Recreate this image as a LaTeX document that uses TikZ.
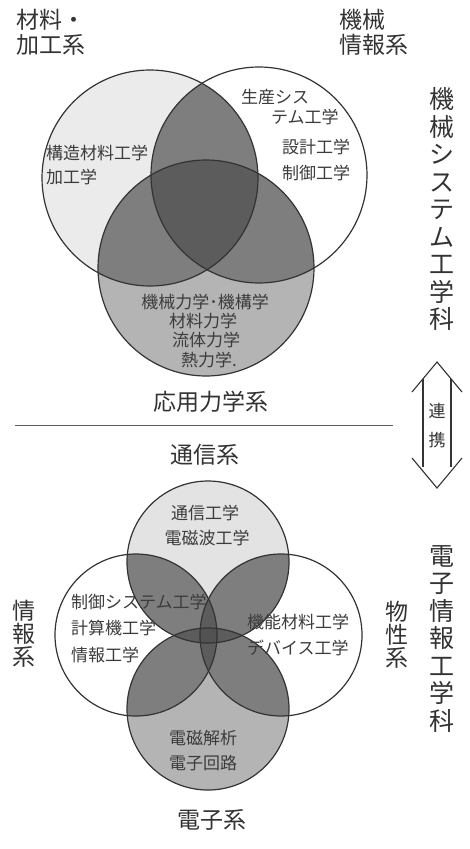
\documentclass[tikz,border=0pt]{standalone}
\usepackage{fontspec}
\setmainfont{Noto Sans CJK JP}
\definecolor{ink}{HTML}{333333}
\definecolor{txt}{HTML}{3C3C3C}
\definecolor{lightA}{HTML}{EBEBEB}
\definecolor{lightT}{HTML}{E3E3E3}
\definecolor{medC}{HTML}{B4B4B4}
\definecolor{pair}{HTML}{7E7E7E}
\definecolor{triple}{HTML}{5C5C5C}
\definecolor{quad}{HTML}{525252}
\tikzset{
  ring/.style={draw=ink, line width=1.2pt},
  group/.style={font=\fontsize{23}{25}\selectfont, text=ink, inner sep=0pt, align=left},
  vgroup/.style={font=\fontsize{23}{23}\selectfont, text=ink, inner sep=0pt, align=center},
  dept/.style={font=\fontsize{25}{27.5}\selectfont, text=ink, inner sep=0pt, align=center},
  subj/.style={font=\fontsize{17}{19}\selectfont, text=txt, inner sep=0pt},
  link/.style={font=\fontsize{17}{19}\selectfont, text=ink, inner sep=0pt},
  outl/.style={draw=ink, line width=1.1pt, line join=miter},
}
\begin{document}
\begin{tikzpicture}[x=1pt,y=-1pt]
\useasboundingbox (0,0) rectangle (469,849);
\fill[white] (0,0) rectangle (469,849);

% ---------- upper Venn ----------
\coordinate (cA) at (150,178);
\coordinate (cB) at (259,175);
\coordinate (cC) at (206,268);
\def\rT{108pt}
\fill[lightA] (cA) circle[radius=\rT];
\fill[medC] (cC) circle[radius=\rT];
\begin{scope}
  \clip (cA) circle[radius=\rT];
  \fill[pair] (cB) circle[radius=\rT];
  \fill[pair] (cC) circle[radius=\rT];
\end{scope}
\begin{scope}
  \clip (cB) circle[radius=\rT];
  \fill[pair] (cC) circle[radius=\rT];
\end{scope}
\begin{scope}
  \clip (cA) circle[radius=\rT];
  \clip (cB) circle[radius=\rT];
  \fill[triple] (cC) circle[radius=\rT];
\end{scope}
\draw[ring] (cA) circle[radius=\rT];
\draw[ring] (cB) circle[radius=\rT];
\draw[ring] (cC) circle[radius=\rT];

% ---------- lower Venn ----------
\coordinate (cT) at (208,562);
\coordinate (cD) at (208,709);
\coordinate (cL) at (136,635);
\coordinate (cR) at (281,635);
\def\rB{81pt}
\fill[lightT] (cT) circle[radius=\rB];
\fill[medC] (cD) circle[radius=\rB];
\begin{scope}
  \clip (cT) circle[radius=\rB];
  \fill[pair] (cL) circle[radius=\rB];
  \fill[pair] (cR) circle[radius=\rB];
\end{scope}
\begin{scope}
  \clip (cD) circle[radius=\rB];
  \fill[pair] (cL) circle[radius=\rB];
  \fill[pair] (cR) circle[radius=\rB];
\end{scope}
\begin{scope}
  \clip (cT) circle[radius=\rB];
  \fill[triple] (cD) circle[radius=\rB];
\end{scope}
\begin{scope}
  \clip (cL) circle[radius=\rB];
  \fill[triple] (cR) circle[radius=\rB];
\end{scope}
\begin{scope}
  \clip (cT) circle[radius=\rB];
  \clip (cD) circle[radius=\rB];
  \clip (cL) circle[radius=\rB];
  \fill[quad] (cR) circle[radius=\rB];
\end{scope}
\draw[ring] (cT) circle[radius=\rB];
\draw[ring] (cD) circle[radius=\rB];
\draw[ring] (cL) circle[radius=\rB];
\draw[ring] (cR) circle[radius=\rB];

% ---------- separator ----------
\coordinate (sepL) at (15,425);
\coordinate (sepR) at (393,425);
\draw[draw=ink!80, line width=0.9pt] (sepL) -- (sepR);

% ---------- double outline arrow ----------
\coordinate (apT) at (437,362);
\coordinate (tlT) at (412,392);
\coordinate (trT) at (462,392);
\coordinate (apD) at (437,488);
\coordinate (tlD) at (412,458);
\coordinate (trD) at (462,458);
\draw[outl] (tlT) -- (apT) -- (trT);
\draw[outl] (tlD) -- (apD) -- (trD);
\draw[outl] (423,379) -- (423,467);
\draw[outl] (451,379) -- (451,467);
\node[link] (ren) at (437,411) {連};
\node[link] (kei) at (437,440) {携};

% ---------- group labels ----------
\node[group, anchor=west] (zairyo) at (16,32.5) {材料・\\加工系};
\node[group, anchor=west] (kikaijoho) at (339,32.5) {機械\\情報系};
\node[group] (oyo) at (211,402) {応用力学系};
\node[group] (tsushin) at (205,455) {通信系};
\node[group] (denshi) at (212,820) {電子系};
\node[vgroup] (joho) at (24,634) {情\\報\\系};
\node[vgroup] (bussei) at (397,635) {物\\性\\系};

% ---------- department titles ----------
\node[dept] (mech) at (442,209) {機\\械\\シ\\ス\\テ\\ム\\工\\学\\科};
\node[dept] (elec) at (442,639) {電\\子\\情\\報\\工\\学\\科};

% ---------- subjects (upper) ----------
\node[subj, anchor=west] (s1) at (46,153) {構造材料工学};
\node[subj, anchor=west] (s2) at (46,177) {加工学};
\node[subj, anchor=west] (s3) at (241,97) {生産シス};
\node[subj, anchor=west] (s4) at (271,117) {テム工学};
\node[subj, anchor=west] (s5) at (282,147) {設計工学};
\node[subj, anchor=west] (s6) at (282,173) {制御工学};
\node[subj] (s7) at (205,302) {機械力学･機構学};
\node[subj] (s8) at (203,321) {材料力学};
\node[subj] (s9) at (206,340) {流体力学};
\node[subj] (s10) at (209,360) {熱力学.};

% ---------- subjects (lower) ----------
\node[subj] (b1) at (205,513) {通信工学};
\node[subj] (b2) at (207,538) {電磁波工学};
\node[subj, anchor=west] (b3) at (71,602) {制御システム工学};
\node[subj, anchor=west] (b4) at (71,628) {計算機工学};
\node[subj, anchor=west] (b5) at (71,655) {情報工学};
\node[subj, anchor=west] (b6) at (247,622) {機能材料工学};
\node[subj, anchor=west] (b7) at (247,648) {デバイス工学};
\node[subj] (b8) at (203,738) {電磁解析};
\node[subj] (b9) at (203,763) {電子回路};
\end{tikzpicture}
\end{document}
